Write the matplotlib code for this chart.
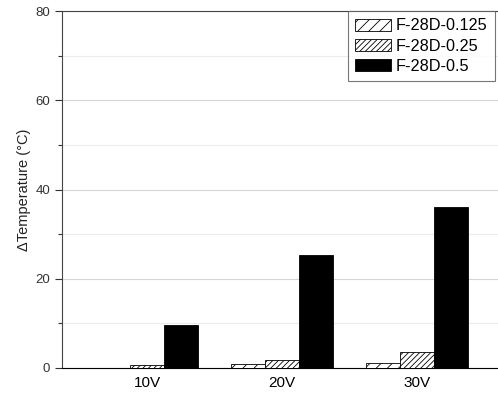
import matplotlib
matplotlib.use("Agg")
import matplotlib.pyplot as plt
import numpy as np

plt.rcParams['font.family'] = ['Liberation Sans', 'DejaVu Sans']
plt.rcParams['hatch.linewidth'] = 0.6

categories = ["10V", "20V", "30V"]
series_names = ["F-28D-0.125", "F-28D-0.25", "F-28D-0.5"]
v_0125 = [0.0, 0.8, 1.1]
v_025 = [0.7, 1.8, 3.6]
v_05 = [9.6, 25.3, 36.1]
yticks = [0, 20, 40, 60, 80]

fig = plt.figure(figsize=(4.98, 3.96), dpi=100)
ax = fig.add_axes([62/498, 28/396, (508-62)/498, (368-11)/396])

x = np.arange(1, len(categories) + 1)
w = 0.252
styles = [dict(facecolor="white", hatch="///"),
          dict(facecolor="white", hatch="//////"),
          dict(facecolor="black", hatch=None)]
for i, (vals, name, st) in enumerate(zip([v_0125, v_025, v_05], series_names, styles)):
    ax.bar(x + (i - 1) * w, vals, w, label=name, edgecolor="black",
           linewidth=0.6, zorder=3, **st)

ax.set_xlim(0.37, 0.37 + (508 - 62) / 135)
ax.set_ylim(0, 80)
ax.set_yticks(yticks)
ax.set_yticks([10, 30, 50, 70], minor=True)
ax.set_xticks(x)
ax.set_xticklabels(categories, fontsize=11)
ax.tick_params(axis='x', length=0, pad=6)
ax.tick_params(axis='y', which='major', length=5, width=0.8, labelsize=9.5, colors="#333333", labelcolor="#333333")
ax.tick_params(axis='y', which='minor', length=3, width=0.8, colors="#333333")
ax.grid(axis='y', which='major', color="#d5d5d5", linewidth=0.8, zorder=0)
ax.grid(axis='y', which='minor', color="#ececec", linewidth=0.8, zorder=0)
for s in ax.spines.values():
    s.set_color("#444444")
    s.set_linewidth(0.8)
ax.spines['bottom'].set_color("black")
ax.set_ylabel("\u0394Temperature (\u00b0C)", fontsize=10.5, color="#222222", labelpad=3)

leg = ax.legend(loc="upper left", bbox_to_anchor=(348/498, 1 - 11/396),
                bbox_transform=fig.transFigure, fontsize=11.7, frameon=True,
                fancybox=False, edgecolor="#555555", handlelength=2.2,
                handleheight=0.75, borderaxespad=0, handletextpad=0.3,
                labelspacing=0.32, borderpad=0.45)
leg.get_frame().set_linewidth(0.8)

fig.savefig("out.png", dpi=100)
